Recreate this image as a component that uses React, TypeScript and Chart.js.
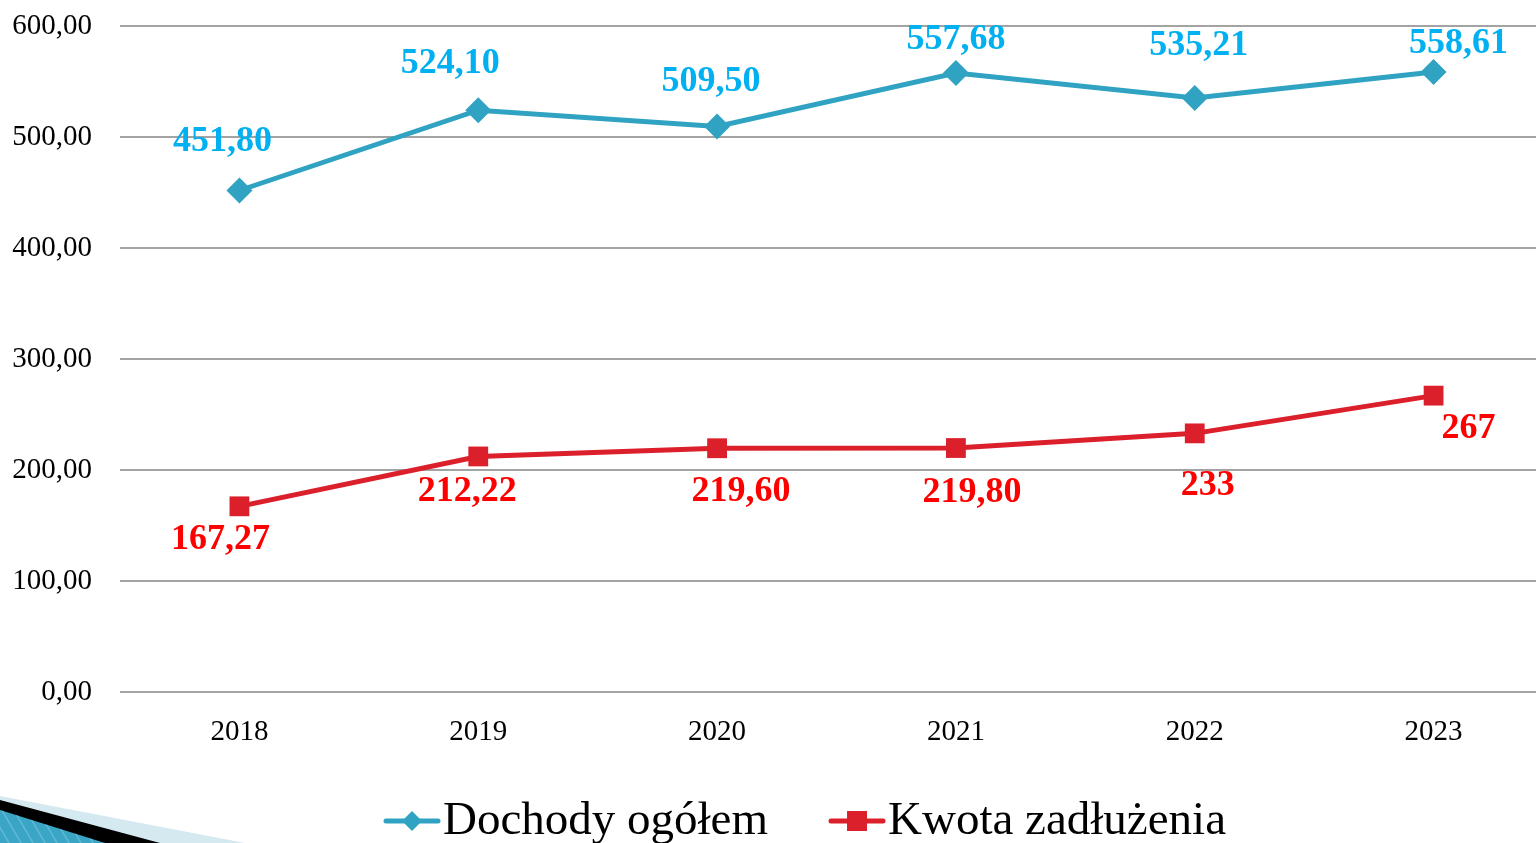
import React, { useEffect, useRef } from "react";
import { Chart, registerables } from "chart.js";

Chart.register(...registerables);

const years = ["2018", "2019", "2020", "2021", "2022", "2023"];
const incomeValues = [451.8, 524.1, 509.5, 557.68, 535.21, 558.61];
const debtValues = [167.27, 212.22, 219.6, 219.8, 233, 267];
const seriesNames = ["Dochody ogółem", "Kwota zadłużenia"];
const yTicks = [0, 100, 200, 300, 400, 500, 600];

const SERIF = '"Liberation Serif", "Times New Roman", serif';
const CANVAS_W = 1567;

const fmt = (v: number) =>
  Number.isInteger(v) ? String(v) : v.toFixed(2).replace(".", ",");

const labelPlugin = {
  id: "customLabels",
  afterDatasetsDraw(chart: any, _args: any, opts: any) {
    const ctx = chart.ctx;
    ctx.save();
    ctx.font = `bold ${opts.size}px ${SERIF}`;
    ctx.textAlign = "center";
    ctx.textBaseline = "middle";
    chart.data.datasets.forEach((ds: any, di: number) => {
      const meta = chart.getDatasetMeta(di);
      const offs = opts.offsets[di];
      ctx.fillStyle = opts.colors[di];
      meta.data.forEach((pt: any, i: number) => {
        const [dx, dy] = offs[i];
        ctx.fillText(fmt(ds.data[i]), pt.x + dx, pt.y + dy);
      });
    });
    ctx.restore();
  },
};

const legendPlugin = {
  id: "customLegend",
  afterDraw(chart: any, _args: any, opts: any) {
    const ctx = chart.ctx;
    ctx.save();
    ctx.font = `${opts.size}px ${SERIF}`;
    ctx.textBaseline = "alphabetic";
    ctx.textAlign = "left";
    let x = opts.x;
    const y = opts.y;
    chart.data.datasets.forEach((ds: any) => {
      ctx.strokeStyle = ds.borderColor;
      ctx.lineWidth = 5;
      ctx.lineCap = "round";
      ctx.beginPath();
      ctx.moveTo(x + 2, y);
      ctx.lineTo(x + 54, y);
      ctx.stroke();
      ctx.fillStyle = ds.borderColor;
      const cx = x + 28;
      ctx.beginPath();
      if (ds.pointStyle === "rectRot") {
        ctx.moveTo(cx, y - 10);
        ctx.lineTo(cx + 10, y);
        ctx.lineTo(cx, y + 10);
        ctx.lineTo(cx - 10, y);
        ctx.closePath();
      } else {
        ctx.rect(cx - 10, y - 10, 20, 20);
      }
      ctx.fill();
      ctx.fillStyle = "#000";
      ctx.fillText(ds.label, x + 59, opts.baseline);
      x += 59 + ctx.measureText(ds.label).width + opts.gap;
    });
    ctx.restore();
  },
};

const decoPlugin = {
  id: "deco",
  beforeDraw(chart: any) {
    const ctx = chart.ctx;
    const H = 843;
    ctx.save();
    ctx.fillStyle = "#d5e9f1";
    ctx.beginPath();
    ctx.moveTo(0, 796);
    ctx.lineTo(245, H);
    ctx.lineTo(0, H);
    ctx.closePath();
    ctx.fill();
    ctx.fillStyle = "#000";
    ctx.beginPath();
    ctx.moveTo(0, 800);
    ctx.lineTo(160, H);
    ctx.lineTo(0, H);
    ctx.closePath();
    ctx.fill();
    ctx.fillStyle = "#3ba5c6";
    ctx.beginPath();
    ctx.moveTo(0, 810);
    ctx.lineTo(105, H);
    ctx.lineTo(0, H);
    ctx.closePath();
    ctx.fill();
    ctx.clip();
    ctx.strokeStyle = "rgba(120,200,225,0.6)";
    ctx.lineWidth = 1.5;
    for (let sx = -40; sx < 120; sx += 12) {
      ctx.beginPath();
      ctx.moveTo(sx, 800);
      ctx.lineTo(sx + 25, H);
      ctx.stroke();
    }
    ctx.restore();
  },
};

export default function App() {
  const ref = useRef<HTMLCanvasElement | null>(null);
  useEffect(() => {
    document.body.style.margin = "0";
    const canvas = ref.current!;
    const chart = new Chart(canvas, {
      type: "line",
      data: {
        labels: years,
        datasets: [
          {
            label: seriesNames[0],
            data: incomeValues,
            borderColor: "#30a3c2",
            backgroundColor: "#30a3c2",
            borderWidth: 5,
            pointStyle: "rectRot",
            pointRadius: 13,
            pointBorderWidth: 0,
            tension: 0,
          },
          {
            label: seriesNames[1],
            data: debtValues,
            borderColor: "#db1f2b",
            backgroundColor: "#db1f2b",
            borderWidth: 5,
            pointStyle: "rect",
            pointRadius: 14,
            pointBorderWidth: 0,
            tension: 0,
          },
        ],
      },
      options: {
        responsive: false,
        animation: false,
        devicePixelRatio: 1,
        layout: { padding: { top: 26, left: 0, right: 0, bottom: 0 } },
        plugins: {
          legend: { display: false },
          tooltip: { enabled: false },
          customLabels: {
            size: 36,
            colors: ["#00b0f0", "#ff0000"],
            offsets: [
              [[-17, -49], [-28, -47], [-6, -45], [0, -33], [4, -52], [25, -28]],
              [[-19, 33], [-11, 35], [24, 43], [16, 45], [13, 52], [35, 33]],
            ],
          },
          customLegend: { x: 384, y: 821, baseline: 834, size: 47, gap: 61 },
        } as any,
        scales: {
          x: {
            offset: true,
            grid: { display: false, drawTicks: false, offset: true },
            border: { display: false },
            ticks: {
              color: "#000",
              font: { family: SERIF, size: 29 },
              padding: 23,
            },
            afterFit(scale: any) {
              scale.height = 151;
              scale.paddingLeft = 0;
              scale.paddingRight = 0;
            },
          },
          y: {
            min: 0,
            max: 600,
            afterBuildTicks(scale: any) {
              scale.ticks = yTicks.map((v) => ({ value: v }));
            },
            grid: { color: "#a3a3a3", lineWidth: 2, drawTicks: false },
            border: { display: false },
            ticks: {
              color: "#000",
              font: { family: SERIF, size: 29 },
              padding: 28,
              callback: (v: any) => Number(v).toFixed(2).replace(".", ","),
            },
            afterFit(scale: any) {
              scale.width = 120;
              scale.paddingTop = 0;
              scale.paddingBottom = 0;
              scale.paddingLeft = 0;
              scale.paddingRight = 0;
            },
          },
        },
      },
      plugins: [decoPlugin, labelPlugin, legendPlugin],
    });
    return () => chart.destroy();
  }, []);
  return (
    <div style={{ width: 1536, height: 843, overflow: "hidden", position: "relative", background: "#fff" }}>
      <canvas
        ref={ref}
        width={CANVAS_W}
        height={843}
        style={{ display: "block", width: CANVAS_W, height: 843, maxWidth: "none" }}
      />
    </div>
  );
}
